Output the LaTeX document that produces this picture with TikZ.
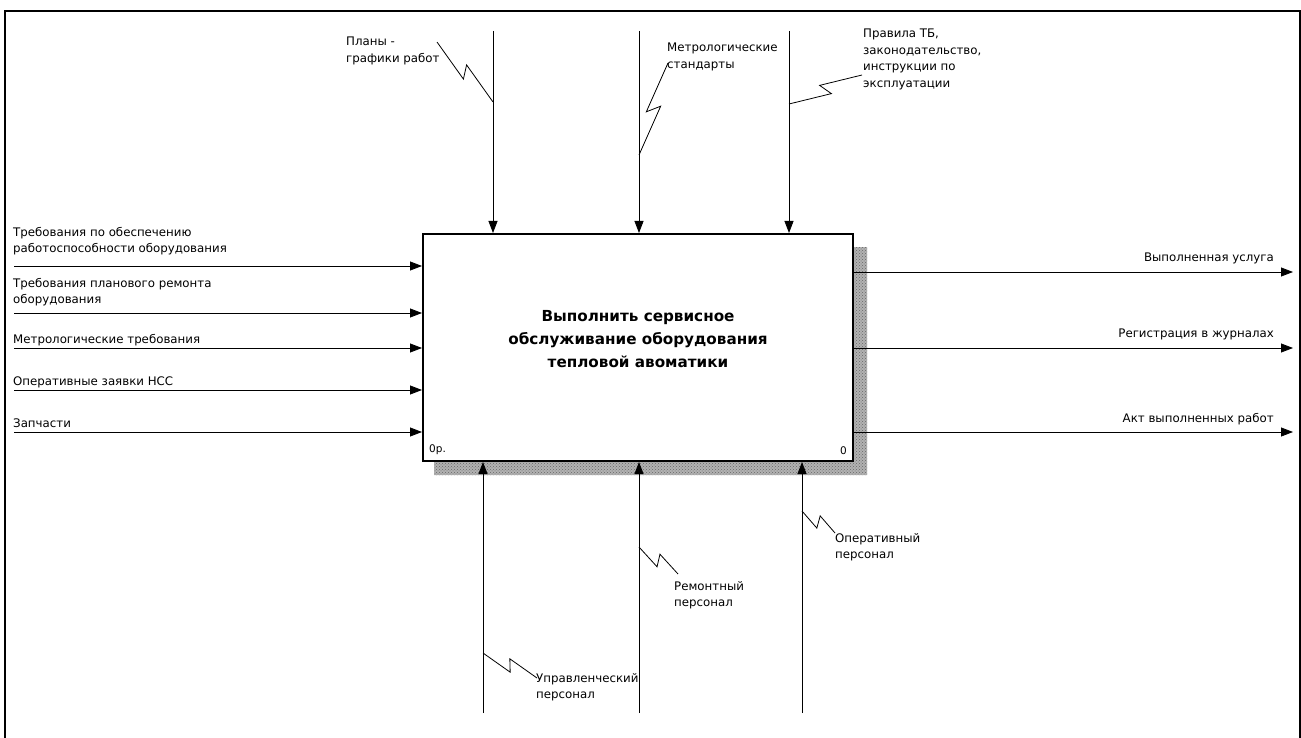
\documentclass[tikz,border=0pt]{standalone}
\usepackage{fontspec}
\setmainfont{DejaVu Sans}
\usetikzlibrary{arrows.meta,calc,patterns}
\begin{document}
\begin{tikzpicture}%
	[	x=1pt,
	y=-1pt,
	frame/.style={line width=2pt, color=black},
	func/.style={draw=black, line width=2pt, fill=white, minimum width=430pt, minimum height=227pt, inner sep=0pt},
	shade/.style={fill=black!30},
	arr/.style={color=black, line width=0.8pt, -{Triangle[length=12pt,width=9pt]}},
	zig/.style={color=black, line width=0.8pt, to path={-- ($(\tikztostart)!0.55!(\tikztotarget)!6pt!-90:(\tikztotarget)$) -- ($(\tikztostart)!0.45!(\tikztotarget)!6pt!90:(\tikztotarget)$) -- (\tikztotarget)}},
	lbl/.style={inner sep=0pt, align=left, font=\fontsize{11.8}{16.5}\selectfont},
	title/.style={inner sep=0pt, align=center, font=\fontsize{15.2}{23}\selectfont\bfseries},
	num/.style={inner sep=0pt, font=\fontsize{10.5}{12}\selectfont}]

\useasboundingbox (0,0) rectangle (1301,738);
\draw[frame] (5,739) -- (5,11) -- (1300,11) -- (1300,739);

\fill[shade] (853,247) -- (867,247) -- (867,475) -- (434,475) -- (434,461) -- (853,461) -- cycle;
\fill[pattern=crosshatch dots, pattern color=black!60] (853,247) -- (867,247) -- (867,475) -- (434,475) -- (434,461) -- (853,461) -- cycle;
\node[func] (box) at (638,347.5) {};
\node[title] (name) at ([yshift=8pt]box.center) {Выполнить сервисное\\обслуживание оборудования\\тепловой авоматики};
\node[num, anchor=south west] (nr) at ([xshift=7pt,yshift=7pt]box.south west) {0р.};
\node[num, anchor=south east] (nid) at ([xshift=-7pt,yshift=7pt]box.south east) {0};

\coordinate (c1) at (493,31);
\coordinate (c2) at (639,31);
\coordinate (c3) at (789,31);
\coordinate (i1) at (14,266);
\coordinate (i2) at (14,313);
\coordinate (i3) at (14,348);
\coordinate (i4) at (14,390);
\coordinate (i5) at (14,432);
\coordinate (o1) at (1293,272);
\coordinate (o2) at (1293,348);
\coordinate (o3) at (1293,432);
\coordinate (m1) at (483,713);
\coordinate (m2) at (639,713);
\coordinate (m3) at (802,713);

\coordinate (j1) at (493,102);
\coordinate (j2) at (639,155);
\coordinate (j3) at (789,104);
\coordinate (j4) at (483,653);
\coordinate (j5) at (639,547);
\coordinate (j6) at (802,511);
\coordinate (t1) at (437,42);
\coordinate (t2) at (668,63);
\coordinate (t3) at (862,75);
\coordinate (t4) at (537,678);
\coordinate (t5) at (678,574);
\coordinate (t6) at (835,533);

\draw[arr] (c1) -- (c1 |- box.north);
\draw[arr] (c2) -- (c2 |- box.north);
\draw[arr] (c3) -- (c3 |- box.north);
\draw[arr] (i1) -- (i1 -| box.west);
\draw[arr] (i2) -- (i2 -| box.west);
\draw[arr] (i3) -- (i3 -| box.west);
\draw[arr] (i4) -- (i4 -| box.west);
\draw[arr] (i5) -- (i5 -| box.west);
\draw[arr] (o1 -| box.east) -- (o1);
\draw[arr] (o2 -| box.east) -- (o2);
\draw[arr] (o3 -| box.east) -- (o3);
\draw[arr] (m1) -- (m1 |- box.south);
\draw[arr] (m2) -- (m2 |- box.south);
\draw[arr] (m3) -- (m3 |- box.south);

\draw[zig] (t1) to (j1);
\draw[zig] (t2) to (j2);
\draw[zig] (t3) to (j3);
\draw[zig] (t4) to (j4);
\draw[zig] (t5) to (j5);
\draw[zig] (t6) to (j6);

\node[lbl, anchor=north west] (plan) at (346,37) {Планы -\\графики работ};
\node[lbl, anchor=north west] (std) at (667,43) {Метрологические\\стандарты};
\node[lbl, anchor=north west] (rules) at (863,29) {Правила ТБ,\\законодательство,\\инструкции по\\эксплуатации};
\node[lbl, anchor=north west] (in1) at (13,227) {Требования по обеспечению\\работоспособности оборудования};
\node[lbl, anchor=north west] (in2) at (13,278) {Требования планового ремонта\\оборудования};
\node[lbl, anchor=north west] (in3) at (13,334) {Метрологические требования};
\node[lbl, anchor=north west] (in4) at (13,377) {Оперативные заявки НСС};
\node[lbl, anchor=north west] (in5) at (13,419) {Запчасти};
\node[lbl, anchor=north east] (out1) at (1274,253) {Выполненная услуга};
\node[lbl, anchor=north east] (out2) at (1274,329) {Регистрация в журналах};
\node[lbl, anchor=north east] (out3) at (1274,413) {Акт выполненных работ};
\node[lbl, anchor=north west] (mech1) at (536,673) {Управленческий\\персонал};
\node[lbl, anchor=north west] (mech2) at (674,581) {Ремонтный\\персонал};
\node[lbl, anchor=north west] (mech3) at (835,533) {Оперативный\\персонал};
\end{tikzpicture}
\end{document}
